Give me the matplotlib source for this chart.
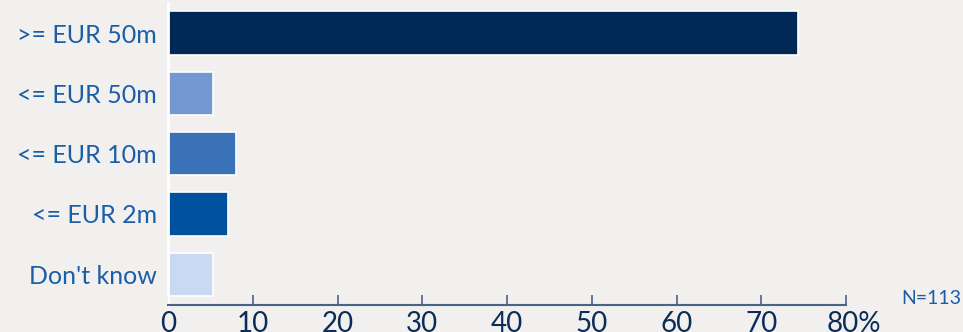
import matplotlib
matplotlib.use("Agg")
import matplotlib.pyplot as plt
from matplotlib.transforms import ScaledTranslation

# Survey responses (share of N=113)
categories = [">= EUR 50m", "<= EUR 50m", "<= EUR 10m", "<= EUR 2m", "Don't know"]
shares = [74.3, 5.3, 8.0, 7.1, 5.3]
colors = ["#002855", "#7497d1", "#3a72b8", "#00529f", "#c9d9f1"]
xticks = [0, 10, 20, 30, 40, 50, 60, 70, 80]
xtick_labels = ["0", "10", "20", "30", "40", "50", "60", "70", "80%"]

bg = "#f1f0ee"
label_blue = "#1b5ea6"
navy = "#0b2c58"

plt.rcParams["font.family"] = ["Lato", "DejaVu Sans"]

fig = plt.figure(figsize=(9.63, 3.32), dpi=100, facecolor=bg)
ax = fig.add_axes([168 / 963, 27 / 332, (846 - 168) / 963, 302 / 332])
ax.set_facecolor(bg)

ypos = list(range(len(categories)))[::-1]
ax.barh(ypos, shares, height=0.72, color=colors, edgecolor="white", linewidth=1.2)

ax.set_xlim(0, 80)
ax.set_ylim(-0.51, 4.5)
ax.set_yticks(ypos)
ax.set_yticklabels(categories, fontsize=18, color=label_blue)
ax.tick_params(axis="y", length=0, pad=8)

ax.set_xticks(xticks)
ax.set_xticklabels(xtick_labels, fontsize=20, color=navy)
ax.tick_params(axis="x", direction="in", length=7, width=1.2, color="#4a6385", pad=4)
# keep the "80" of the last label centred on its tick
last = ax.get_xticklabels()[-1]
last.set_transform(last.get_transform() + ScaledTranslation(8 / 100, 0, fig.dpi_scale_trans))

for side in ("top", "right"):
    ax.spines[side].set_visible(False)
ax.spines["left"].set_color("white")
ax.spines["left"].set_linewidth(2)
ax.spines["bottom"].set_color("#4a6385")
ax.spines["bottom"].set_linewidth(1.5)

fig.text(961 / 963, 1 - 299 / 332, "N=113", fontsize=14, color=label_blue,
         ha="right", va="center")

fig.savefig("out.png", dpi=100, facecolor=bg)
